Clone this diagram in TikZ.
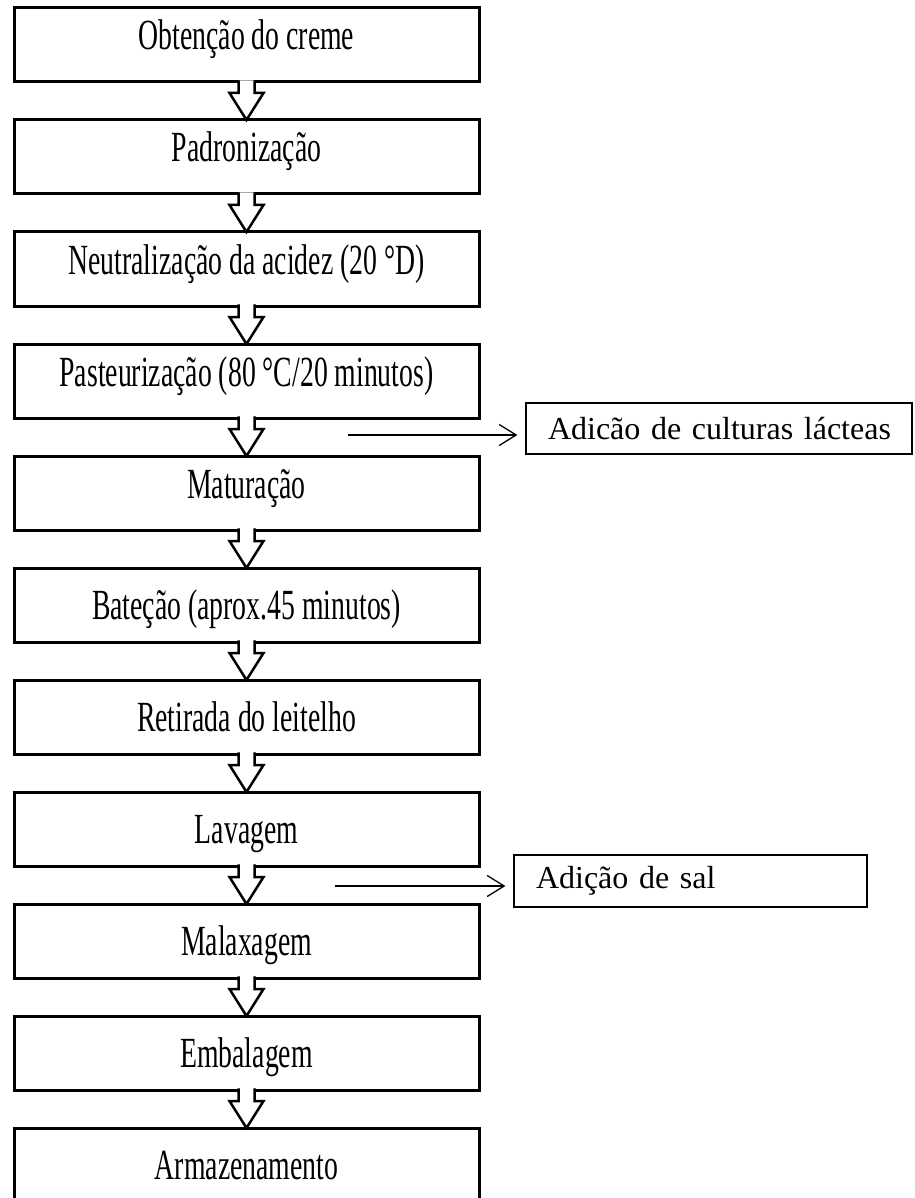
\documentclass[tikz,border=0pt]{standalone}
\usepackage{fontspec}
\setmainfont{Liberation Serif}
\newfontfamily\estreito[FakeStretch=0.645]{Liberation Serif}
\usetikzlibrary{arrows.meta}

\tikzset{
  etapa/.style={draw, line width=3pt, outer sep=0pt, minimum width=465pt, minimum height=74pt,
    inner sep=0pt, text height=28pt, font=\estreito\fontsize{43}{47}\selectfont},
  bloco/.style={draw, fill=white, line width=2.5pt, line join=miter},
  extra/.style={draw, line width=1.2pt, inner xsep=22pt, inner ysep=0pt, align=left,
    font=\fontsize{32}{36}\selectfont},
  lateral/.style={line width=1.3pt, -{Straight Barb[length=17pt,width=21pt,line width=1.3pt]}, shorten >=8pt}
}

\begin{document}
\begin{tikzpicture}[x=1pt, y=-1pt]
% Page size of the flowchart
\def\larg{914}
\def\alt{1198}
\def\passo{112}
\useasboundingbox (0,0) rectangle (\larg,\alt);
\clip (0,0) rectangle (\larg,\alt);

% Process steps, top to bottom
\foreach \i/\prof/\txt in {1/18/Obtenção do creme, 2/18/Padronização,
    3/18/{Neutralização da acidez (20 °D)}, 4/18/{Pasteurização (80 °C/20 minutos)},
    5/18/Maturação, 6/0/{Bateção (aprox.45 minutos)}, 7/0/Retirada do leitelho,
    8/0/Lavagem, 9/0/Malaxagem, 10/0/Embalagem, 11/0/Armazenamento} {
    \node[etapa, text depth=\prof pt] (e\i) at (246.5, {45+\passo*(\i-1)}) {\txt};
}

% Block arrows between the steps
\foreach \i in {1,...,10} {
    \pgfmathtruncatemacro{\j}{\i+1}
    \filldraw[bloco] ([shift={(-8,-1.6)}]e\i.south) -- ([shift={(-8,11)}]e\i.south)
        -- ([shift={(-17,11)}]e\i.south) -- (e\j.north) -- ([shift={(17,11)}]e\i.south)
        -- ([shift={(8,11)}]e\i.south) -- ([shift={(8,-1.6)}]e\i.south);
}

% Additions at the side
\node[extra, minimum width=386pt, minimum height=51pt, text width=342pt] (cult) at (719, 428.5) {\mbox{Adicão de culturas lácteas}};
\node[extra, minimum width=353pt, minimum height=52pt, text width=309pt] (sal) at (690.5, 881) {\mbox{Adição de sal}};

\coordinate (c1) at (348, 435);
\coordinate (c2) at (335, 886);
\draw[lateral] (c1) -- (c1 -| cult.west);
\draw[lateral] (c2) -- (c2 -| sal.west);

\end{tikzpicture}
\end{document}
